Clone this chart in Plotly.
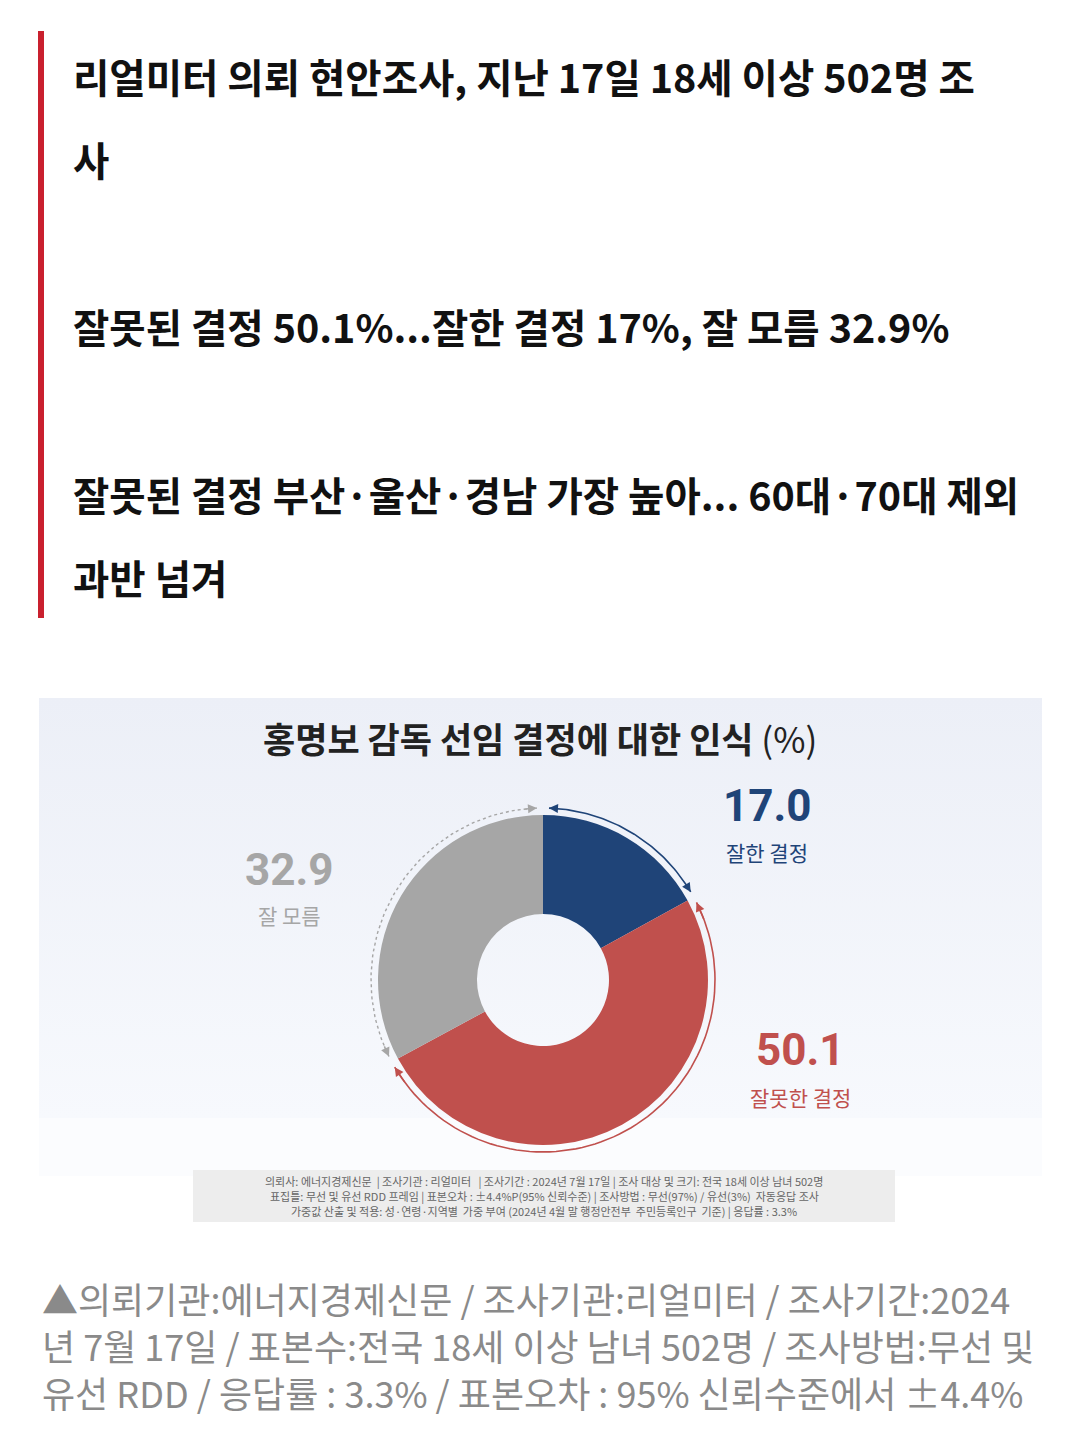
import math
import plotly.graph_objects as go

# ---- data ----
categories = ["잘한 결정", "잘못한 결정", "잘 모름"]
values = [17.0, 50.1, 32.9]
colors = ["#1f4478", "#c0504d", "#a6a6a6"]
value_labels = ["17.0", "50.1", "32.9"]

headline_lines = [
    "리얼미터 의뢰 현안조사, 지난 17일 18세 이상 502명 조",
    "사",
    "잘못된 결정 50.1%...잘한 결정 17%, 잘 모름 32.9%",
    "잘못된 결정 부산·울산·경남 가장 높아... 60대·70대 제외",
    "과반 넘겨",
]
chart_title = "<b>홍명보 감독 선임 결정에 대한 인식</b> (%)"
footnote_lines = [
    "의뢰사: 에너지경제신문  | 조사기관 : 리얼미터   | 조사기간 : 2024년 7월 17일 | 조사 대상 및 크기: 전국 18세 이상 남녀 502명",
    "표집틀: 무선 및 유선 RDD 프레임 | 표본오차 : ±4.4%P(95% 신뢰수준) | 조사방법 : 무선(97%) / 유선(3%)  자동응답 조사",
    "가중값 산출 및 적용: 성·연령·지역별  가중 부여 (2024년 4월 말 행정안전부  주민등록인구  기준) | 응답률 : 3.3%",
]
caption_lines = [
    "▲의뢰기관:에너지경제신문 / 조사기관:리얼미터 / 조사기간:2024",
    "년 7월 17일 / 표본수:전국 18세 이상 남녀 502명 / 조사방법:무선 및",
    "유선 RDD / 응답률 : 3.3% / 표본오차 : 95% 신뢰수준에서 ±4.4%",
]

# page is 1080x1436; html body has an 8px margin, so the figure starts at (8, 8)
PW, PH, OFF = 1080, 1436, 8
W, H = PW - OFF, PH - OFF
KR = "Noto Sans CJK KR"
cx, cy, R = 543, 980, 165

fig = go.Figure()

# panel background (gradient)
fig.add_trace(go.Scatter(
    x=[39, 1042, 1042, 39, 39], y=[698, 698, 1118, 1118, 698],
    fill="toself", mode="lines", line=dict(width=0),
    fillgradient=dict(type="vertical", colorscale=[[0, "#f7f9fd"], [1, "#eceff7"]]),
    hoverinfo="skip", showlegend=False))

# donut
fig.add_trace(go.Pie(
    labels=categories, values=values, hole=0.4, sort=False, direction="clockwise",
    rotation=0, marker=dict(colors=colors, line=dict(width=0)), textinfo="none",
    hoverinfo="label+value", showlegend=False,
    domain=dict(x=[(cx - OFF - R) / W, (cx - OFF + R) / W],
                y=[1 - (cy - OFF + R) / H, 1 - (cy - OFF - R) / H])))

# arcs around the donut (angles derived from the data)
total = sum(values)
arc_r = 172
start = 0.0
arc_styles = [
    dict(color="#1f4478", dash="solid", width=1.6),
    dict(color="#c0504d", dash="solid", width=1.6),
    dict(color="#a6a6a6", dash="dot", width=1.4),
]
annotations = []
for v, st in zip(values, arc_styles):
    a0 = start + 2.0
    a1 = start + v / total * 360 - 2.0
    n = 80
    xs, ys = [], []
    for i in range(n + 1):
        t = math.radians(a0 + (a1 - a0) * i / n)
        xs.append(cx + arc_r * math.sin(t))
        ys.append(cy - arc_r * math.cos(t))
    fig.add_trace(go.Scatter(x=xs, y=ys, mode="lines", line=st,
                             hoverinfo="skip", showlegend=False))
    for (ex, ey, px, py) in [(xs[0], ys[0], xs[3], ys[3]), (xs[-1], ys[-1], xs[-4], ys[-4])]:
        annotations.append(dict(x=ex, y=ey, ax=px, ay=py, xref="x", yref="y",
                                axref="x", ayref="y", showarrow=True, arrowhead=2,
                                arrowsize=1.2, arrowwidth=1.5, arrowcolor=st["color"], text=""))
    start += v / total * 360

# axes in page-pixel coordinates
fig.update_xaxes(range=[OFF, PW], visible=False, fixedrange=True)
fig.update_yaxes(range=[PH, OFF], visible=False, fixedrange=True)

shapes = [
    dict(type="rect", x0=38, x1=44, y0=31, y1=618, xref="x", yref="y",
         fillcolor="#c9202e", line=dict(width=0), layer="below"),
    dict(type="rect", x0=39, x1=1042, y0=1118, y1=1176, xref="x", yref="y",
         fillcolor="#fbfcfe", line=dict(width=0), layer="below"),
    dict(type="rect", x0=193, x1=895, y0=1170, y1=1222, xref="x", yref="y",
         fillcolor="#ededed", line=dict(width=0), layer="below"),
]

# headline
head_y = [75, 158, 325, 493, 576]
for t, y in zip(headline_lines, head_y):
    annotations.append(dict(x=71, y=y, xref="x", yref="y", text=f"<b>{t}</b>",
                            showarrow=False, xanchor="left", yanchor="middle",
                            font=dict(family=KR, size=39.5, color="#111111")))

# chart title
annotations.append(dict(x=540, y=737, xref="x", yref="y", text=chart_title, showarrow=False,
                        xanchor="center", yanchor="middle",
                        font=dict(family=KR, size=35, color="#222222")))

# value labels
label_pos = [(767, 806, 852), (800, 1050, 1097), (289, 870, 915)]
for cat, vl, col, (lx, vy, cyy) in zip(categories, value_labels, colors, label_pos):
    annotations.append(dict(x=lx, y=vy, xref="x", yref="y", text=f"<b>{vl}</b>",
                            showarrow=False, xanchor="center", yanchor="middle",
                            font=dict(family="Roboto", size=44, color=col)))
    annotations.append(dict(x=lx, y=cyy, xref="x", yref="y", text=cat,
                            showarrow=False, xanchor="center", yanchor="middle",
                            font=dict(family=KR, size=21, color=col)))

# footnote
for t, y in zip(footnote_lines, [1181, 1196, 1211]):
    annotations.append(dict(x=544, y=y, xref="x", yref="y", text=t, showarrow=False,
                            xanchor="center", yanchor="middle",
                            font=dict(family=KR, size=11, color="#666666")))

# caption
for t, y in zip(caption_lines, [1298, 1345, 1392]):
    annotations.append(dict(x=40, y=y, xref="x", yref="y", text=t, showarrow=False,
                            xanchor="left", yanchor="middle",
                            font=dict(family=KR, size=36, color="#8a8a8a")))

fig.update_layout(width=W, height=H, margin=dict(l=0, r=0, t=0, b=0),
                  paper_bgcolor="white", plot_bgcolor="white",
                  shapes=shapes, annotations=annotations, showlegend=False)

fig.write_html("out.html")
